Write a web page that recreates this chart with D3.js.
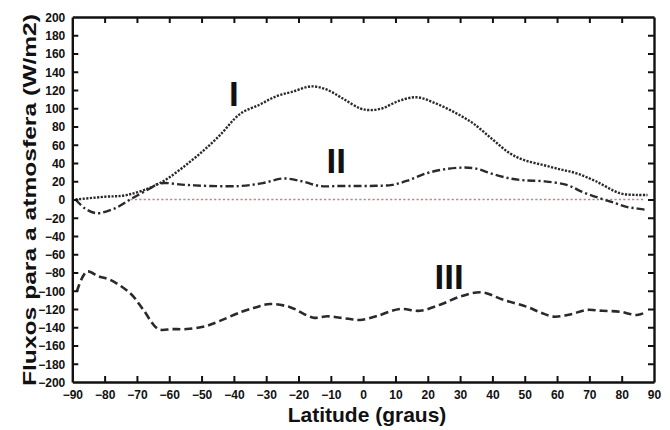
<!DOCTYPE html>
<html><head><meta charset="utf-8">
<script src="https://cdn.jsdelivr.net/npm/d3@7"></script>
<style>body{margin:0;background:#fff}svg{display:block}text{font-family:"Liberation Sans",Arial,sans-serif;font-weight:bold}</style>
</head><body><svg id="c" width="670" height="430"></svg>
<script>
const xTicks = d3.range(-90, 91, 10);
const yTicks = d3.range(-200, 201, 20);
const latI = [-89,-80,-73,-63,-53,-45,-38,-32,-27,-22,-16,-11,-6,-1,2,6,11,16.6,22,28,34,40,45.4,50,55.7,61,66,72,79.5,85,88];
const valI = [0,3,5,17.8,43,68,94,104,113,118,124,120,110,100,98,100,108,112,106,96,83.5,66,50.6,43,37.8,33,28.7,20,6.8,5,5];
const latII = [-89,-86,-82.5,-77,-71.6,-66,-62.9,-55,-47.4,-38,-31,-24.7,-19,-13.4,-7,-1,4,9,14,19.6,25,31,35,40,45.5,50,55.7,63,68,73.3,78,81.5,85,88];
const valII = [0,-10,-15,-10,1,12,17.7,16,14.8,14.8,18,23,20,14.8,14.8,14.8,15,16,21,28.7,33,35,33.8,28,23,21,20,16,8,1.3,-4,-8,-10,-11.5];
const latIII = [-88.6,-85.5,-82,-78.3,-72,-68,-63.4,-59,-54.6,-49,-44.3,-37.6,-33,-28.8,-22.6,-15.4,-11,-7.2,-4,-1,4,11.4,17.6,24,30,36.7,43.4,50.6,55,58.9,64,69.2,74,79.5,84.7,87.2];
const valIII = [-101,-79,-84,-88,-103,-121,-142,-142,-142,-139,-133,-123,-118,-114.5,-118,-129.5,-128,-129.5,-131,-132,-128,-120,-122,-115,-106.5,-101.7,-110,-117.5,-124,-128.4,-126,-121,-122,-123,-126.6,-124];
const zeroLat = [-72, 87];
const curveLabels = ["I", "II", "III"];
const labelLat = [-40, -8.3, 26.6];
const labelVal = [102, 29, -98];

const svg = d3.select("#c");
const x = d3.scaleLinear().domain([-90, 90]).range([72.3, 654]);
const y = d3.scaleLinear().domain([-200, 200]).range([382, 17]);

// zero reference line
svg.append("line").attr("x1", x(zeroLat[0])).attr("x2", x(zeroLat[1]))
  .attr("y1", y(0)).attr("y2", y(0))
  .attr("stroke", "#b58a8a").attr("stroke-width", 1.6).attr("stroke-dasharray", "2.2 2.2");

const line = d3.line().x(d => x(d[0])).y(d => y(d[1])).curve(d3.curveCatmullRom.alpha(0.5));
function draw(lat, val, dash, w) {
  svg.append("path").datum(lat.map((l, i) => [l, val[i]]))
    .attr("d", line).attr("fill", "none").attr("stroke", "#2a2a2a")
    .attr("stroke-width", w).attr("stroke-dasharray", dash);
}
draw(latI, valI, "2.2 1.4", 2.4);
draw(latII, valII, "8 3 2.2 3", 2.4);
draw(latIII, valIII, "8 4", 2.6);

// axes (box with inward ticks)
const gB = svg.append("g").attr("transform", `translate(0,${y(-200)})`)
  .call(d3.axisBottom(x).tickValues(xTicks).tickSizeInner(-6).tickSizeOuter(0).tickPadding(8).tickFormat(d3.format("d")));
const gL = svg.append("g").attr("transform", `translate(${x(-90)},0)`)
  .call(d3.axisLeft(y).tickValues(yTicks).tickSizeInner(-6).tickSizeOuter(0).tickPadding(7).tickFormat(d3.format("d")));
const gT = svg.append("g").attr("transform", `translate(0,${y(200)})`)
  .call(d3.axisTop(x).tickValues(xTicks).tickSizeInner(-6).tickSizeOuter(0).tickFormat(""));
const gR = svg.append("g").attr("transform", `translate(${x(90)},0)`)
  .call(d3.axisRight(y).tickValues(yTicks).tickSizeInner(-6).tickSizeOuter(0).tickFormat(""));
[gB, gL, gT, gR].forEach(g => {
  g.select(".domain").attr("stroke", "#111").attr("stroke-width", 2.4);
  g.selectAll(".tick line").attr("stroke", "#111").attr("stroke-width", 2);
  g.selectAll("text").attr("fill", "#111").style("font-size", "12px").style("font-weight", "bold").attr("font-family", null);
});
gB.selectAll(".tick").filter(d => d === -90 || d === 90).select("line").remove();
gT.selectAll(".tick").filter(d => d === -90 || d === 90).select("line").remove();
gL.selectAll(".tick").filter(d => d === -200 || d === 200).select("line").remove();
gR.selectAll(".tick").filter(d => d === -200 || d === 200).select("line").remove();
gL.selectAll("text").attr("dy", "0.36em");

// curve labels
curveLabels.forEach((t, i) => {
  svg.append("text").attr("x", x(labelLat[i])).attr("y", y(labelVal[i]))
    .attr("text-anchor", "middle").style("font-size", "35px").attr("fill", "#111").text(t);
});

// titles
svg.append("text").attr("x", 367).attr("y", 422).attr("text-anchor", "middle")
  .style("font-size", "21px").attr("fill", "#111").text("Latitude (graus)");
svg.append("text").attr("transform", "translate(36,200) rotate(-90)").attr("text-anchor", "middle")
  .attr("textLength", 372).attr("lengthAdjust", "spacingAndGlyphs")
  .style("font-size", "18px").attr("fill", "#111").text("Fluxos para a atmosfera (W/m2)");
</script></body></html>
